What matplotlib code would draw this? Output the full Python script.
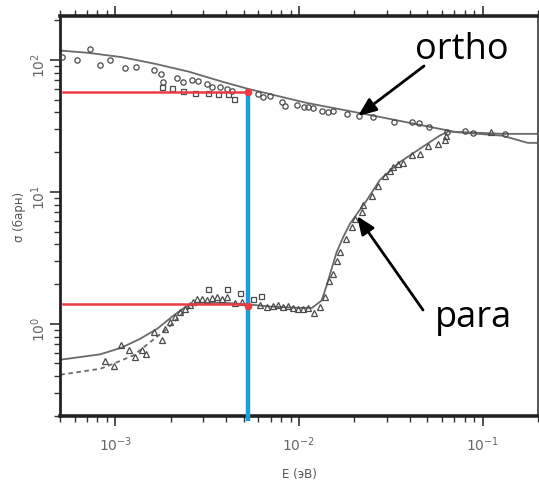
import matplotlib
matplotlib.use("Agg")
import matplotlib.pyplot as plt
from matplotlib.ticker import LogLocator, NullFormatter

# ---------------- data ----------------
# ortho theory curve
ortho_line_E = [5.02e-4, 7.16e-4, 1.087e-3, 1.65e-3, 2.502e-3, 3.80e-3, 5.28e-3,
                1.10e-2, 2.534e-2, 5.84e-2, 7.20e-2, 0.1285, 0.1757, 0.2]
ortho_line_s = [117.6, 113.0, 104.8, 93.3, 81.5, 68.5, 60.3,
                47.2, 37.8, 30.0, 28.3, 26.6, 23.5, 23.5]

# para theory curve (solid)
para_line_E = [5.02e-4, 8.29e-4, 1.078e-3, 1.367e-3, 1.692e-3, 2.066e-3, 2.462e-3,
               2.826e-3, 4.0e-3, 5.3e-3, 7.0e-3, 1.0e-2, 1.177e-2, 1.328e-2,
               1.414e-2, 1.505e-2, 1.603e-2, 1.741e-2, 1.893e-2, 2.1e-2, 2.333e-2,
               2.756e-2, 3.54e-2, 4.55e-2, 5.84e-2, 6.48e-2, 8.5e-2, 0.1285, 0.2]
para_line_s = [0.534, 0.587, 0.658, 0.77, 0.917, 1.15, 1.369,
               1.443, 1.44, 1.40, 1.35, 1.32, 1.32, 1.50,
               1.95, 2.61, 3.49, 4.54, 5.72, 7.02, 8.59,
               12.3, 16.8, 21.2, 26.7, 28.6, 28.2, 27.5, 27.5]

# para theory curve (dashed)
para_dash_E = [5.02e-4, 8.29e-4, 9.75e-4, 1.253e-3, 1.55e-3, 1.917e-3, 2.256e-3,
               2.557e-3, 2.826e-3]
para_dash_s = [0.411, 0.456, 0.498, 0.575, 0.727, 0.917, 1.156, 1.338, 1.443]

# ortho data (circles)
ortho_c_E = [5.13e-4, 6.19e-4, 7.31e-4, 8.22e-4, 9.39e-4, 1.133e-3, 1.30e-3, 1.629e-3,
             1.778e-3, 1.816e-3, 2.164e-3, 2.333e-3, 2.611e-3, 2.816e-3, 3.151e-3,
             3.354e-3, 3.721e-3, 4.047e-3, 4.306e-3, 6.01e-3, 6.40e-3, 6.96e-3,
             8.05e-3, 8.39e-3, 9.72e-3, 1.069e-2, 1.123e-2, 1.196e-2, 1.329e-2,
             1.443e-2, 1.536e-2, 1.816e-2, 2.127e-2, 2.515e-2, 3.283e-2, 4.148e-2,
             4.506e-2, 5.107e-2, 6.397e-2, 7.98e-2, 8.86e-2, 0.1317]
ortho_c_s = [104.8, 100.5, 121.2, 92.1, 100.5, 86.5, 88.9, 84.4,
             78.3, 68.5, 72.7, 67.8, 70.9, 69.7, 65.8,
             62.8, 62.1, 60.3, 58.5, 55.3, 52.2, 53.1,
             48.3, 44.6, 45.1, 43.8, 43.8, 43.1, 40.9,
             40.2, 41.3, 39.0, 37.8, 36.8, 33.7, 33.7,
             33.2, 30.9, 28.3, 29.1, 27.8, 27.5]

# ortho data (squares)
ortho_s_E = [1.794e-3, 2.033e-3, 2.333e-3, 2.722e-3, 3.19e-3, 3.642e-3, 4.13e-3, 4.432e-3]
ortho_s_s = [62.1, 61.0, 58.5, 56.2, 55.9, 55.3, 55.3, 50.6]

# para data (squares)
para_s_E = [3.214e-3, 4.06e-3, 4.78e-3, 5.60e-3, 6.22e-3]
para_s_s = [1.819, 1.842, 1.696, 1.547, 1.63]

# para data (triangles)
para_t_E = [8.82e-4, 9.79e-4, 1.069e-3, 1.181e-3, 1.284e-3, 1.39e-3, 1.474e-3, 1.615e-3,
            1.785e-3, 1.869e-3, 1.99e-3, 2.119e-3, 2.256e-3, 2.401e-3, 2.557e-3,
            2.664e-3, 2.78e-3, 2.959e-3, 3.151e-3, 3.354e-3, 3.57e-3, 3.80e-3,
            4.047e-3, 4.488e-3, 4.88e-3, 6.14e-3, 6.68e-3, 7.25e-3, 7.72e-3,
            8.22e-3, 8.75e-3, 9.31e-3, 9.91e-3, 1.055e-2, 1.123e-2, 1.206e-2,
            1.30e-2, 1.384e-2, 1.461e-2, 1.536e-2, 1.603e-2, 1.67e-2, 1.80e-2,
            1.934e-2, 2.015e-2, 2.192e-2, 2.236e-2, 2.484e-2, 2.698e-2, 2.934e-2,
            3.123e-2, 3.254e-2, 3.465e-2, 3.69e-2, 4.10e-2, 4.55e-2, 5.04e-2,
            5.71e-2, 6.22e-2, 6.35e-2, 0.1115]
para_t_s = [0.52, 0.481, 0.687, 0.635, 0.557, 0.63, 0.593, 0.865,
            0.75, 0.917, 1.03, 1.124, 1.226, 1.283, 1.376,
            1.46, 1.528, 1.528, 1.501, 1.566, 1.593, 1.547,
            1.593, 1.443, 1.46, 1.393, 1.338, 1.362, 1.376,
            1.338, 1.362, 1.315, 1.299, 1.283, 1.315, 1.205,
            1.338, 1.593, 2.092, 2.392, 3.016, 3.49, 4.405,
            5.40, 6.17, 7.02, 7.88, 9.28, 11.16, 13.29,
            14.5, 15.4, 16.3, 16.6, 19.07, 19.4, 22.4,
            23.1, 24.5, 26.7, 28.3]

# highlighted point (blue vertical / red horizontals)
E_mark = 5.28e-3
s_ortho_mark = 57.2
s_para_mark = 1.40
E_red_start = 5.2e-4

xlim = (5.0e-4, 0.2)
ylim = (0.2, 215)

# ---------------- figure ----------------
W, H = 539, 489
fig = plt.figure(figsize=(W / 100, H / 100), dpi=100)
ax = fig.add_axes([60 / W, 72 / H, 478 / W, 400 / H])
ax.set_xscale("log")
ax.set_yscale("log")
ax.set_xlim(*xlim)
ax.set_ylim(*ylim)

grey = "#6a6a6a"
mk = "#4a4a4a"
ax.plot(ortho_line_E, ortho_line_s, color=grey, lw=1.3, zorder=2)
ax.plot(para_line_E, para_line_s, color=grey, lw=1.3, zorder=2)
ax.plot(para_dash_E, para_dash_s, color=grey, lw=1.3, ls=(0, (2.5, 2)), zorder=2)

mkw = dict(ls="none", mfc="none", mec=mk, mew=0.9, zorder=3)
ax.plot(ortho_c_E, ortho_c_s, marker="o", ms=3.8, **mkw)
ax.plot(ortho_s_E, ortho_s_s, marker="s", ms=3.6, **mkw)
ax.plot(para_s_E, para_s_s, marker="s", ms=3.6, **mkw)
ax.plot(para_t_E, para_t_s, marker="^", ms=3.8, **mkw)

red = "#ee3a43"
blue = "#1b9de0"
ax.plot([E_red_start, E_mark], [s_ortho_mark, s_ortho_mark], color=red, lw=1.8, zorder=4)
ax.plot([E_red_start, E_mark], [s_para_mark, s_para_mark], color=red, lw=1.8, zorder=4)
ax.plot([E_mark, E_mark], [0.184, s_ortho_mark * 1.06], color=blue, lw=3.2, zorder=5,
        clip_on=False, solid_capstyle="butt")
ax.plot([E_mark], [s_ortho_mark], marker="o", ms=4.5, color=red, zorder=6)
ax.plot([E_mark], [s_para_mark * 0.97], marker="o", ms=4.5, color=red, zorder=6)

# spines and ticks
for side, lw in [("left", 2.0), ("bottom", 2.6), ("top", 2.6), ("right", 1.4)]:
    ax.spines[side].set_linewidth(lw)
    ax.spines[side].set_color("#222222")
ax.spines["right"].set_color("#555555")

ax.xaxis.set_major_locator(LogLocator(base=10, numticks=10))
ax.xaxis.set_minor_locator(LogLocator(base=10, subs=range(2, 10), numticks=20))
ax.yaxis.set_major_locator(LogLocator(base=10, numticks=10))
ax.yaxis.set_minor_locator(LogLocator(base=10, subs=range(2, 10), numticks=20))
ax.xaxis.set_minor_formatter(NullFormatter())
ax.yaxis.set_minor_formatter(NullFormatter())

ax.tick_params(which="both", direction="out", color="#333333", top=True, right=False,
               labelcolor="#666666", labelsize=10)
ax.tick_params(which="major", length=7, width=1.2)
ax.tick_params(which="minor", length=4, width=1.0)
ax.tick_params(axis="y", labelrotation=90, pad=2)
ax.tick_params(axis="x", pad=6)

ax.set_xlabel("E (эВ)", color="#555555", fontsize=8.5, labelpad=10)
ax.set_ylabel("σ (барн)", color="#555555", fontsize=8.5, labelpad=2)

# annotations
tfont = dict(fontsize=26, family=["Open Sans", "DejaVu Sans"], color="black")
fig.text(462 / W, 1 - 59 / H, "ortho", ha="center", va="baseline", **tfont)
fig.text(474 / W, 1 - 327 / H, "para", ha="center", va="baseline", **tfont)
arrow = dict(arrowstyle="-|>,head_length=1.1,head_width=0.45", lw=2.0, color="black",
             shrinkA=0, shrinkB=0)
ax.annotate("", xy=(358, H - 117), xycoords="figure pixels",
            xytext=(424, H - 67), textcoords="figure pixels", arrowprops=arrow)
ax.annotate("", xy=(357, H - 217), xycoords="figure pixels",
            xytext=(423, H - 311), textcoords="figure pixels", arrowprops=arrow)

fig.savefig("out.png", dpi=100)
